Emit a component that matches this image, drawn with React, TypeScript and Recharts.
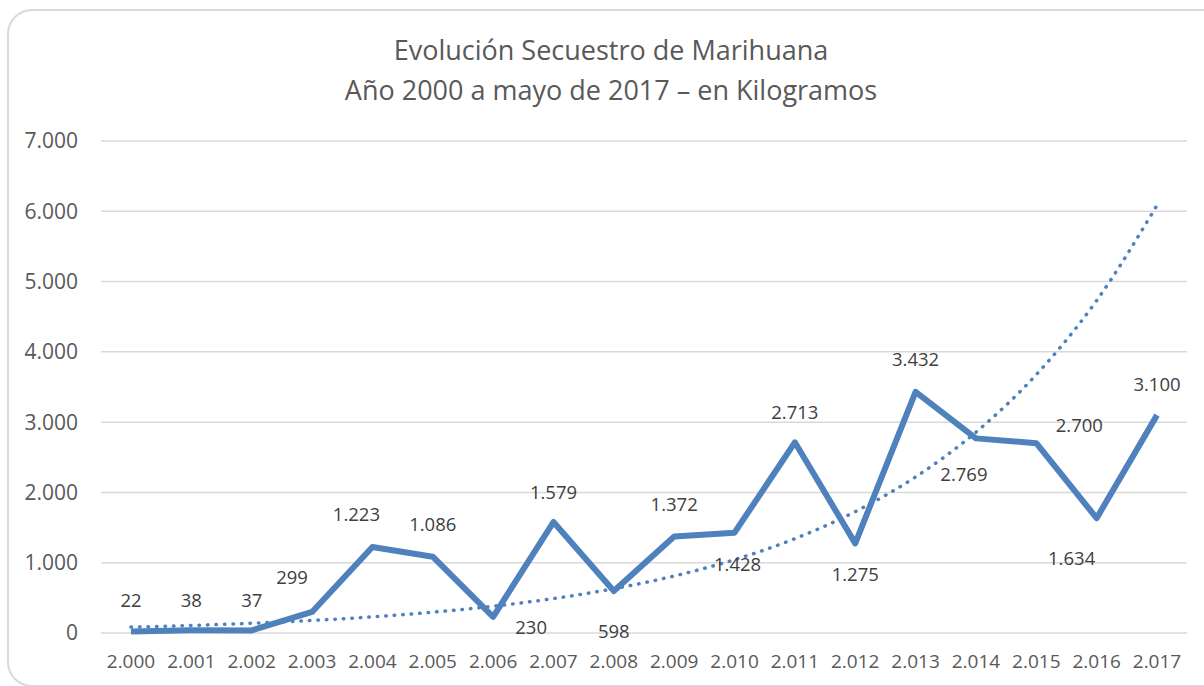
import { LineChart, Line, XAxis, YAxis, CartesianGrid, LabelList } from 'recharts';

const years = [2000, 2001, 2002, 2003, 2004, 2005, 2006, 2007, 2008, 2009, 2010, 2011, 2012, 2013, 2014, 2015, 2016, 2017];
const kilos = [22, 38, 37, 299, 1223, 1086, 230, 1579, 598, 1372, 1428, 2713, 1275, 3432, 2769, 2700, 1634, 3100];
// exponential trendline
const trend = [84, 108, 139, 179, 230, 296, 381, 490, 630, 811, 1043, 1342, 1727, 2221, 2858, 3676, 4730, 6085];
const yTicks = [0, 1000, 2000, 3000, 4000, 5000, 6000, 7000];

const data = years.map((year, i) => ({ year, kg: kilos[i], trend: trend[i] }));

// where Excel left each data label, relative to its point
const labelOffsets: [number, number][] = [
  [0, -32], [0, -31], [0, -31], [-20, -35], [-16, -34], [0, -33],
  [38, 10], [0, -31], [0, 40], [0, -33], [3, 31], [0, -31],
  [0, 30], [0, -33], [-12, 35], [43, -19], [-25, 39], [0, -32],
];

const fmt = (n: number) => String(n).replace(/\B(?=(\d{3})+(?!\d))/g, '.');

const FONT = '"Open Sans", sans-serif';

const renderLabel = (props: any) => {
  const { x, y, value, index } = props;
  const [dx, dy] = labelOffsets[index] || [0, -30];
  return (
    <text
      x={x + dx}
      y={y + dy}
      textAnchor="middle"
      dominantBaseline="central"
      fill="#404040"
      fontSize={18.5}
      fontFamily={FONT}
    >
      {fmt(value)}
    </text>
  );
};

export default function App() {
  return (
    <div style={{ position: 'absolute', left: 0, top: 0, width: 1204, height: 686, overflow: 'hidden', background: '#fff', fontFamily: FONT }}>
      <div
        style={{
          position: 'absolute', left: 7, top: 9, width: 1230, height: 678,
          border: '2px solid #d9d9d9', borderRadius: 25, boxSizing: 'border-box',
        }}
      />
      <div style={{ position: 'absolute', left: 0, width: 1222, top: 30, textAlign: 'center', color: '#595959', fontSize: 27, lineHeight: '40px' }}>
        <div>Evolución Secuestro de Marihuana</div>
        <div>Año 2000 a mayo de 2017 – en Kilogramos</div>
      </div>
      <div style={{ position: 'absolute', left: 0, top: 0 }}>
        <LineChart width={1204} height={686} data={data} margin={{ top: 141, right: 17, left: 0, bottom: 0 }}>
          <CartesianGrid vertical={false} stroke="#d9d9d9" strokeWidth={1.5} />
          <XAxis
            dataKey="year"
            tickFormatter={fmt}
            padding={{ left: 30, right: 30 }}
            axisLine={false}
            tickLine={false}
            tickSize={0}
            tickMargin={22}
            height={53}
            interval={0}
            tick={{ fill: '#595959', fontSize: 19, fontFamily: FONT }}
          />
          <YAxis
            domain={[0, 7000]}
            ticks={yTicks}
            tickFormatter={fmt}
            axisLine={false}
            tickLine={false}
            tickSize={0}
            tickMargin={23}
            width={101}
            tick={{ fill: '#595959', fontSize: 21, fontFamily: FONT }}
          />
          <Line
            type="monotone"
            dataKey="trend"
            stroke="#4f81bd"
            strokeWidth={3.5}
            strokeDasharray="0.5 8"
            strokeLinecap="round"
            dot={false}
            activeDot={false}
            isAnimationActive={false}
          />
          <Line
            type="linear"
            dataKey="kg"
            stroke="#4f81bd"
            strokeWidth={6}
            strokeLinejoin="round"
            dot={false}
            activeDot={false}
            isAnimationActive={false}
          >
            <LabelList dataKey="kg" content={renderLabel} />
          </Line>
        </LineChart>
      </div>
    </div>
  );
}
